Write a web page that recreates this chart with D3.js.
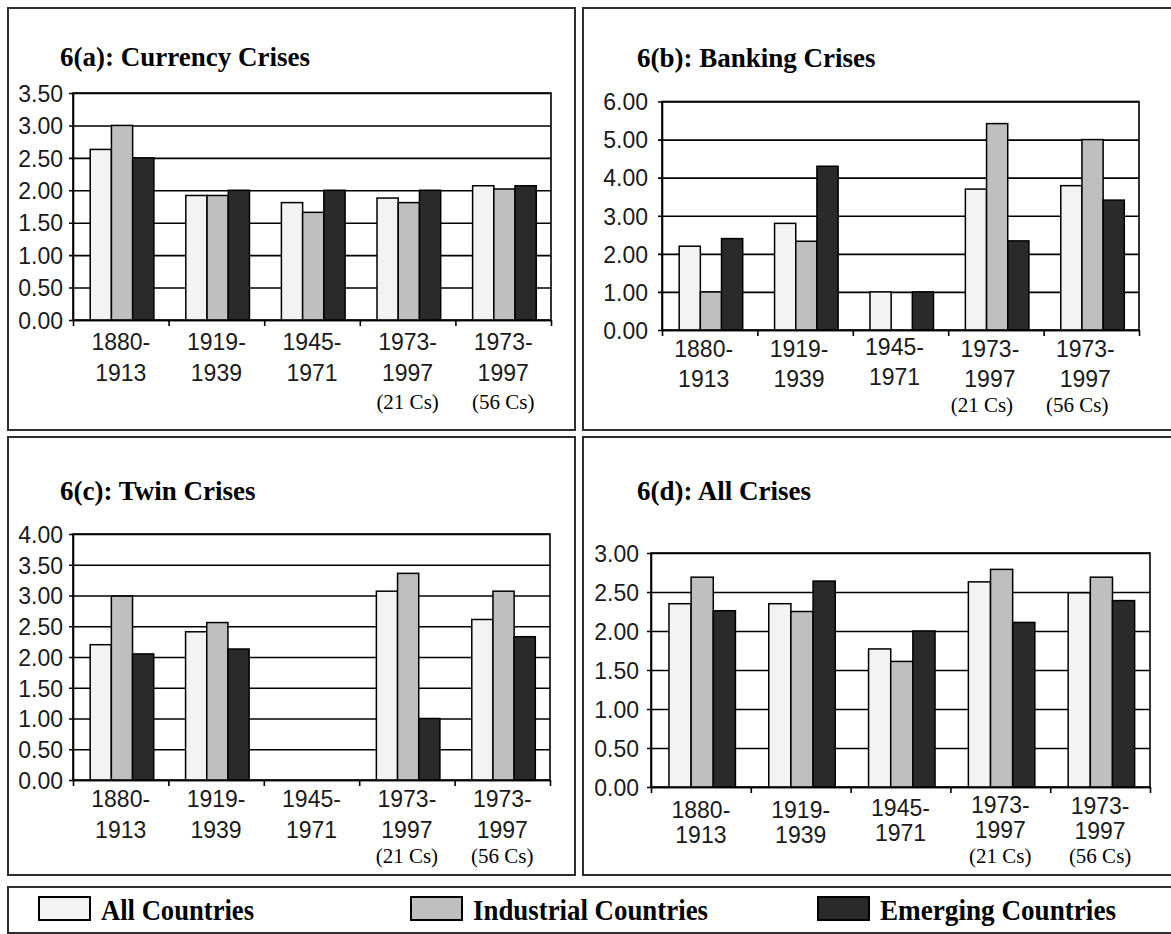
<!DOCTYPE html>
<html>
<head>
<meta charset="utf-8">
<script src="https://cdn.jsdelivr.net/npm/d3@7"></script>
<style>
  html, body { margin: 0; padding: 0; background: #ffffff; }
  svg { display: block; }
</style>
</head>
<body>
<svg id="chart" width="1171" height="934"></svg>
<script>
// ---------------- DATA ----------------
const categories = [["1880-", "1913"], ["1919-", "1939"], ["1945-", "1971"], ["1973-", "1997"], ["1973-", "1997"]];
const subLabels = ["", "", "", "(21 Cs)", "(56 Cs)"];
const seriesNames = ["All Countries", "Industrial Countries", "Emerging Countries"];
const panelTitles = ["6(a): Currency Crises", "6(b): Banking Crises", "6(c): Twin Crises", "6(d): All Crises"];

const currencyAll        = [2.63, 1.92, 1.81, 1.88, 2.07];
const currencyIndustrial = [3.00, 1.92, 1.66, 1.81, 2.02];
const currencyEmerging   = [2.50, 2.00, 2.00, 2.00, 2.07];

const bankingAll        = [2.20, 2.80, 1.00, 3.70, 3.79];
const bankingIndustrial = [1.00, 2.33, 0.00, 5.42, 5.00];
const bankingEmerging   = [2.40, 4.30, 1.00, 2.34, 3.41];

const twinAll        = [2.20, 2.41, 0.00, 3.07, 2.61];
const twinIndustrial = [2.99, 2.56, 0.00, 3.36, 3.07];
const twinEmerging   = [2.05, 2.13, 0.00, 1.00, 2.33];

const allCrisesAll        = [2.35, 2.35, 1.77, 2.63, 2.49];
const allCrisesIndustrial = [2.69, 2.25, 1.61, 2.79, 2.69];
const allCrisesEmerging   = [2.26, 2.64, 2.00, 2.11, 2.39];

const yTicksA = [0, 0.5, 1, 1.5, 2, 2.5, 3, 3.5];
const yTicksB = [0, 1, 2, 3, 4, 5, 6];
const yTicksC = [0, 0.5, 1, 1.5, 2, 2.5, 3, 3.5, 4];
const yTicksD = [0, 0.5, 1, 1.5, 2, 2.5, 3];

// ---------------- LAYOUT ----------------
const colors = ["#f3f3f3", "#bfbfbf", "#2a2a2a"];
const svg = d3.select("#chart");
svg.append("rect").attr("width", 1171).attr("height", 934).attr("fill", "#ffffff");

const panels = [
  { title: panelTitles[0], series: [currencyAll, currencyIndustrial, currencyEmerging], ticks: yTicksA,
    border: [8, 8, 567, 422], plot: [73, 551, 93, 320], titlePos: [60, 66], gap: 10,
    line1: 342, line2: 373, sub: 403, labelDx: 0, subDx: 0, raise: [0, 0, 0, 0, 0] },
  { title: panelTitles[1], series: [bankingAll, bankingIndustrial, bankingEmerging], ticks: yTicksB,
    border: [583, 8, 620, 422], plot: [662, 1139, 101.5, 330], titlePos: [637, 67], gap: 14,
    line1: 349, line2: 379, sub: 406, labelDx: -6, subDx: -14, raise: [0, 0, 2, 0, 0] },
  { title: panelTitles[2], series: [twinAll, twinIndustrial, twinEmerging], ticks: yTicksC,
    border: [8, 437, 567, 438], plot: [73, 550, 534, 780], titlePos: [60, 500], gap: 10,
    line1: 799, line2: 830, sub: 857, labelDx: 0, subDx: 0, raise: [0, 0, 0, 0, 0] },
  { title: panelTitles[3], series: [allCrisesAll, allCrisesIndustrial, allCrisesEmerging], ticks: yTicksD,
    border: [583, 437, 620, 438], plot: [651, 1150, 553, 787], titlePos: [637, 500], gap: 12,
    line1: 810, line2: 835, sub: 857, labelDx: 0, subDx: 0, raise: [0, 0, 2, 5, 4] }
];

const sansFont = "'Liberation Sans', Arial, sans-serif";
const serifFont = "'Liberation Serif', 'Times New Roman', serif";

panels.forEach(p => {
  const g = svg.append("g");
  const [x0, x1, y0, y1] = p.plot;
  const ymax = d3.max(p.ticks);

  // panel frame
  g.append("rect")
    .attr("x", p.border[0]).attr("y", p.border[1])
    .attr("width", p.border[2]).attr("height", p.border[3])
    .attr("fill", "none").attr("stroke", "#2e2e2e").attr("stroke-width", 2);

  // title
  g.append("text")
    .attr("x", p.titlePos[0]).attr("y", p.titlePos[1])
    .attr("font-family", serifFont).attr("font-weight", "bold")
    .attr("font-size", 27).attr("fill", "#000")
    .text(p.title);

  const x = d3.scaleBand().domain(d3.range(categories.length)).range([x0, x1]).paddingInner(0).paddingOuter(0);
  const bw = x.bandwidth();
  const xs = d3.scaleBand().domain(d3.range(seriesNames.length)).range([bw * 0.18, bw * (0.18 + 0.666)]).padding(0);
  const y = d3.scaleLinear().domain([0, ymax]).range([y1, y0]);

  // gridlines via axis (extend 4px left of the axis as ticks)
  const grid = g.append("g").attr("transform", `translate(${x0 - 4},0)`)
    .call(d3.axisLeft(y).tickValues(p.ticks).tickSize(-(x1 - x0) - 4).tickSizeOuter(0).tickFormat(""));
  grid.select(".domain").remove();
  grid.selectAll("line").attr("stroke", "#000").attr("stroke-width", 1.6);

  // plot frame
  g.append("rect")
    .attr("x", x0).attr("y", y0).attr("width", x1 - x0).attr("height", y1 - y0)
    .attr("fill", "none").attr("stroke", "#000").attr("stroke-width", 1.6);

  // bars
  const barData = [];
  p.series.forEach((vals, s) => vals.forEach((v, i) => { if (v > 0) barData.push({ i, s, v }); }));
  g.append("g").selectAll("rect").data(barData).join("rect")
    .attr("x", d => x(d.i) + xs(d.s))
    .attr("y", d => y(d.v))
    .attr("width", xs.bandwidth())
    .attr("height", d => y(0) - y(d.v))
    .attr("fill", d => colors[d.s])
    .attr("stroke", "#000").attr("stroke-width", 1.5);

  // y axis with labels
  const ya = g.append("g").attr("transform", `translate(${x0},0)`)
    .call(d3.axisLeft(y).tickValues(p.ticks).tickFormat(d3.format(".2f")).tickSize(0).tickPadding(p.gap));
  ya.select(".domain").attr("stroke", "#000").attr("stroke-width", 1.6);
  ya.selectAll("text").attr("font-family", sansFont).attr("font-size", 23).attr("fill", "#1a1a1a").attr("dy", "0.36em");

  // bottom axis with ticks at band edges
  const xe = d3.scaleLinear().domain([0, categories.length]).range([x0, x1]);
  const xa = g.append("g").attr("transform", `translate(0,${y1})`)
    .call(d3.axisBottom(xe).tickValues(d3.range(categories.length + 1)).tickSize(6).tickSizeOuter(0).tickFormat(""));
  xa.select(".domain").attr("stroke", "#000").attr("stroke-width", 1.6);
  xa.selectAll("line").attr("stroke", "#000").attr("stroke-width", 1.6);

  // category labels
  const lab = g.append("g").attr("font-family", sansFont).attr("font-size", 23).attr("fill", "#1a1a1a").attr("text-anchor", "middle");
  categories.forEach((c, i) => {
    const cx = x(i) + bw / 2 + p.labelDx;
    lab.append("text").attr("x", cx).attr("y", p.line1 - p.raise[i] + 8.2).text(c[0]);
    lab.append("text").attr("x", cx).attr("y", p.line2 - p.raise[i] + 8.2).text(c[1]);
    if (subLabels[i]) {
      g.append("text").attr("x", x(i) + bw / 2 + p.subDx).attr("y", p.sub + 5.5)
        .attr("text-anchor", "middle").attr("font-family", serifFont).attr("font-size", 21).attr("fill", "#000")
        .text(subLabels[i]);
    }
  });
});

// ---------------- LEGEND ----------------
svg.append("rect").attr("x", 8).attr("y", 887).attr("width", 1175).attr("height", 46)
  .attr("fill", "none").attr("stroke", "#2e2e2e").attr("stroke-width", 2);
const legendX = d3.scaleOrdinal().domain(seriesNames).range([39, 411, 818]);
const legendW = d3.scaleOrdinal().domain(seriesNames).range([153, 235, 236]);
const lg = svg.append("g");
seriesNames.forEach((n, i) => {
  lg.append("rect").attr("x", legendX(n)).attr("y", 897).attr("width", 51).attr("height", 23)
    .attr("fill", colors[i]).attr("stroke", "#000").attr("stroke-width", 2);
  lg.append("text").attr("x", legendX(n) + 62).attr("y", 920)
    .attr("font-family", serifFont).attr("font-weight", "bold").attr("font-size", 29)
    .attr("textLength", legendW(n)).attr("lengthAdjust", "spacingAndGlyphs")
    .attr("fill", "#000").text(n);
});
</script>
</body>
</html>
